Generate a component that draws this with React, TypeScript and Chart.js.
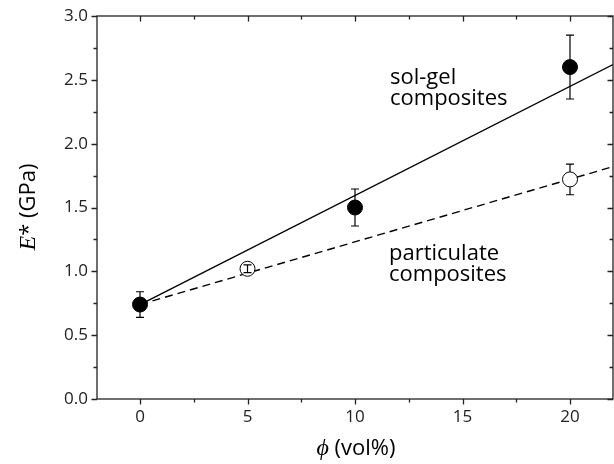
import React, { useEffect, useRef } from "react";
import { Chart, registerables } from "chart.js";

Chart.register(...registerables);

// Data
const solGelX = [0, 10, 20];
const solGelY = [0.74, 1.5, 2.6];
const solGelErr = [0.1, 0.145, 0.25];

const partX = [5, 20];
const partY = [1.02, 1.72];
const partErr = [0.03, 0.12];

const fitX = [0, 22];
const solGelFit = [0.74, 2.62];
const partFit = [0.74, 1.82];

const xMajorTicks = [0, 5, 10, 15, 20];
const xMinorTicks = [2.5, 7.5, 12.5, 17.5];
const yMajorTicks = [0, 0.5, 1, 1.5, 2, 2.5, 3];
const yMinorTicks = [0.25, 0.75, 1.25, 1.75, 2.25, 2.75];

const labelSolGel = ["sol-gel", "composites"];
const labelPart = ["particulate", "composites"];

const SANS = "'Open Sans', sans-serif";
const SERIF = "'Liberation Serif', 'DejaVu Serif', serif";

export default function App() {
  const ref = useRef<HTMLCanvasElement | null>(null);

  useEffect(() => {
    if (!ref.current) return;

    const errPlugin = {
      id: "errbars",
      afterDatasetsDraw(chart: any) {
        const ctx = chart.ctx;
        const xs = chart.scales.x;
        const ys = chart.scales.y;
        const R = 7.5;
        ctx.save();
        ctx.strokeStyle = "#000";
        ctx.lineWidth = 1.2;
        const drawBar = (x: number, y: number, e: number) => {
          const px = xs.getPixelForValue(x);
          const py = ys.getPixelForValue(y);
          const top = ys.getPixelForValue(y + e);
          const bot = ys.getPixelForValue(y - e);
          ctx.beginPath();
          if (py - top > R) {
            ctx.moveTo(px, top);
            ctx.lineTo(px, py - R);
            ctx.moveTo(px, py + R);
            ctx.lineTo(px, bot);
          } else {
            ctx.moveTo(px, top);
            ctx.lineTo(px, bot);
          }
          ctx.moveTo(px - 4, top);
          ctx.lineTo(px + 4, top);
          ctx.moveTo(px - 4, bot);
          ctx.lineTo(px + 4, bot);
          ctx.stroke();
        };
        solGelX.forEach((x, i) => drawBar(x, solGelY[i], solGelErr[i]));
        partX.forEach((x, i) => drawBar(x, partY[i], partErr[i]));
        ctx.restore();
      },
    };

    const framePlugin = {
      id: "frame",
      afterDraw(chart: any) {
        const ctx = chart.ctx;
        const a = chart.chartArea;
        const xs = chart.scales.x;
        const ys = chart.scales.y;
        ctx.save();
        ctx.strokeStyle = "#222";
        ctx.lineWidth = 1.3;
        ctx.strokeRect(a.left, a.top, a.right - a.left, a.bottom - a.top);
        ctx.beginPath();
        const xt = (v: number, len: number) => {
          const p = Math.round(xs.getPixelForValue(v)) + 0.5;
          ctx.moveTo(p, a.bottom);
          ctx.lineTo(p, a.bottom + len);
          ctx.moveTo(p, a.top);
          ctx.lineTo(p, a.top + len);
        };
        const yt = (v: number, len: number) => {
          const p = Math.round(ys.getPixelForValue(v)) + 0.5;
          ctx.moveTo(a.left, p);
          ctx.lineTo(a.left - len, p);
          ctx.moveTo(a.right, p);
          ctx.lineTo(a.right - len, p);
        };
        xMajorTicks.forEach((v) => xt(v, 5.5));
        xMinorTicks.forEach((v) => xt(v, 3.5));
        yMajorTicks.forEach((v) => yt(v, 5.5));
        yMinorTicks.forEach((v) => yt(v, 3.5));
        ctx.stroke();

        // annotations
        ctx.fillStyle = "#000";
        ctx.textBaseline = "alphabetic";
        ctx.textAlign = "left";
        ctx.font = `22px ${SANS}`;
        ctx.fillText(labelSolGel[0], 390, 84);
        ctx.fillText(labelSolGel[1], 390, 105);
        ctx.fillText(labelPart[0], 389, 260);
        ctx.fillText(labelPart[1], 389, 281);

        // x title
        const phi = "\u03D5";
        const rest = " (vol%)";
        ctx.font = `italic 24px ${SERIF}`;
        const w1 = ctx.measureText(phi).width;
        ctx.font = `22px ${SANS}`;
        const w2 = ctx.measureText(rest).width;
        let sx = 356 - (w1 + w2) / 2;
        ctx.font = `italic 24px ${SERIF}`;
        ctx.fillText(phi, sx, 455);
        ctx.font = `22px ${SANS}`;
        ctx.fillText(rest, sx + w1, 455);

        // y title
        ctx.save();
        ctx.translate(35, 207);
        ctx.rotate(-Math.PI / 2);
        const e = "E";
        const star = "*";
        const gpa = " (GPa)";
        ctx.font = `italic 24px ${SERIF}`;
        const we = ctx.measureText(e).width;
        ctx.font = `22px ${SANS}`;
        const ws = ctx.measureText(star).width;
        const wg = ctx.measureText(gpa).width;
        let s = -(we + ws + wg) / 2;
        ctx.font = `italic 24px ${SERIF}`;
        ctx.fillText(e, s, 0);
        ctx.font = `22px ${SANS}`;
        ctx.fillText(star, s + we, 0);
        ctx.fillText(gpa, s + we + ws, 0);
        ctx.restore();

        ctx.restore();
      },
    };

    const zeroPad = (scale: any) => {
      scale.paddingLeft = 0;
      scale.paddingRight = 0;
      scale.paddingTop = 0;
      scale.paddingBottom = 0;
    };

    const chart = new Chart(ref.current, {
      type: "scatter",
      data: {
        datasets: [
          {
            label: "sol-gel",
            data: solGelX.map((x, i) => ({ x, y: solGelY[i] })),
            pointRadius: 7.5,
            pointBackgroundColor: "#000",
            pointBorderColor: "#000",
            pointBorderWidth: 1,
            showLine: false,
          },
          {
            label: "particulate",
            data: partX.map((x, i) => ({ x, y: partY[i] })),
            pointRadius: 7.5,
            pointBackgroundColor: "#fff",
            pointBorderColor: "#000",
            pointBorderWidth: 1,
            showLine: false,
          },
          {
            label: "sol-gel fit",
            data: fitX.map((x, i) => ({ x, y: solGelFit[i] })),
            showLine: true,
            pointRadius: 0,
            borderColor: "#000",
            borderWidth: 1.4,
          },
          {
            label: "particulate fit",
            data: fitX.map((x, i) => ({ x, y: partFit[i] })),
            showLine: true,
            pointRadius: 0,
            borderColor: "#000",
            borderWidth: 1.4,
            borderDash: [8, 5],
          },
        ],
      },
      options: {
        animation: false,
        responsive: false,
        maintainAspectRatio: false,
        layout: { autoPadding: false, padding: { top: 16, right: 1, left: 0, bottom: 0 } },
        plugins: { legend: { display: false }, tooltip: { enabled: false } },
        scales: {
          x: {
            type: "linear",
            min: -2,
            max: 22,
            afterBuildTicks: (scale: any) => {
              scale.ticks = xMajorTicks.map((v) => ({ value: v }));
            },
            afterFit: (scale: any) => {
              scale.height = 65;
              zeroPad(scale);
            },
            grid: { display: false, drawTicks: false },
            border: { display: false },
            ticks: {
              padding: 8,
              color: "#222",
              font: { family: SANS, size: 17 },
              maxRotation: 0,
              callback: (v: any) => String(v),
            },
          },
          y: {
            type: "linear",
            min: 0,
            max: 3,
            afterBuildTicks: (scale: any) => {
              scale.ticks = yMajorTicks.map((v) => ({ value: v }));
            },
            afterFit: (scale: any) => {
              scale.width = 97;
              zeroPad(scale);
            },
            grid: { display: false, drawTicks: false },
            border: { display: false },
            ticks: {
              padding: 9,
              color: "#222",
              font: { family: SANS, size: 17 },
              callback: (v: any) => Number(v).toFixed(1),
            },
          },
        },
      },
      plugins: [errPlugin, framePlugin],
    } as any);

    return () => chart.destroy();
  }, []);

  return (
    <div style={{ position: "fixed", left: 0, top: 0, width: 614, height: 464, background: "#fff" }}>
      <canvas ref={ref} width={614} height={464} style={{ width: 614, height: 464 }} />
    </div>
  );
}
